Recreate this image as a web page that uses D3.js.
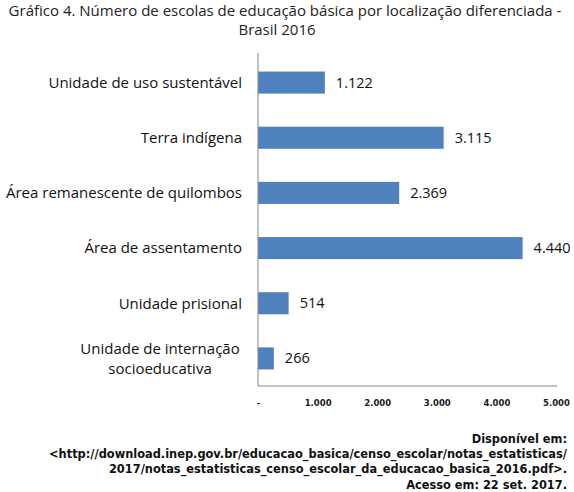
<!DOCTYPE html>
<html>
<head>
<meta charset="utf-8">
<script src="https://cdn.jsdelivr.net/npm/d3@7"></script>
<style>
  body { margin: 0; background: #fff; }
  svg { display: block; }
  .cat { font-family: "Open Sans", sans-serif; font-size: 15px; fill: #111; }
  .val { font-family: "Open Sans", sans-serif; font-size: 14.5px; fill: #111; }
  .tick text { font-family: "DejaVu Sans", sans-serif; font-size: 8.5px; font-weight: bold; fill: #1a1a1a; }
  .title { font-family: "Open Sans", sans-serif; font-size: 15px; fill: #222; }
  .src { font-family: "DejaVu Sans", Verdana, sans-serif; font-size: 11.4px; font-weight: bold; fill: #111; }
</style>
</head>
<body>
<svg id="chart" width="574" height="492"></svg>
<script>
var categories = [
    ["Unidade de uso sustentável"],
    ["Terra indígena"],
    ["Área remanescente de quilombos"],
    ["Área de assentamento"],
    ["Unidade prisional"],
    ["Unidade de internação", "socioeducativa"]
];
var values = [1122, 3115, 2369, 4440, 514, 266];
var ticks = [0, 1000, 2000, 3000, 4000, 5000];
var titleLines = ["Gráfico 4. Número de escolas de educação básica por localização diferenciada -", "Brasil 2016"];
var sourceLines = [
    "Disponível em:",
    "<http://download.inep.gov.br/educacao_basica/censo_escolar/notas_estatisticas/",
    "2017/notas_estatisticas_censo_escolar_da_educacao_basica_2016.pdf>.",
    "Acesso em: 22 set. 2017."
];

var svg = d3.select('#chart');

var x = d3.scaleLinear().domain([0, 5000]).range([258, 556]);
var y = d3.scaleBand().domain(d3.range(values.length)).range([55, 386]).paddingInner(0.6).paddingOuter(0.3);

// pt-BR number format: 1.122
var fmt = function (v) {
    if (v == 0) return '-';
    return d3.format(',')(v).replace(/,/g, '.');
};

// title
svg.selectAll('.title').data(titleLines).enter().append('text')
    .attr('class', 'title')
    .attr('x', function (d, i) { return i == 0 ? 285 : 277; })
    .attr('y', function (d, i) { return 16 + i * 19; })
    .attr('text-anchor', 'middle')
    .text(function (d) { return d; });

// bars
svg.selectAll('.bar').data(values).enter().append('rect')
    .attr('class', 'bar')
    .attr('x', x(0))
    .attr('y', function (d, i) { return y(i); })
    .attr('width', function (d) { return x(d) - x(0); })
    .attr('height', y.bandwidth())
    .attr('fill', '#4f81bd');

// value labels
svg.selectAll('.val').data(values).enter().append('text')
    .attr('class', 'val')
    .attr('x', function (d) { return x(d) + 11; })
    .attr('y', function (d, i) { return y(i) + y.bandwidth() / 2; })
    .attr('dy', '0.35em')
    .text(function (d) { return fmt(d); });

// category labels
var cat = svg.selectAll('.cat').data(categories).enter().append('text')
    .attr('class', 'cat')
    .attr('text-anchor', function (d) { return d.length > 1 ? 'middle' : 'end'; })
    .attr('transform', function (d, i) {
        var cx = d.length > 1 ? 160 : 242;
        return 'translate(' + cx + ',' + (y(i) + y.bandwidth() / 2) + ')';
    });
cat.selectAll('tspan').data(function (d) { return d; }).enter().append('tspan')
    .attr('x', 0)
    .attr('y', function (d, j, nodes) { return (j - (nodes.length - 1) / 2) * 20; })
    .attr('dy', '0.35em')
    .text(function (d) { return d; });

// axes
var xAxis = d3.axisBottom(x).tickValues(ticks).tickSize(0).tickPadding(14).tickFormat(fmt);
var gx = svg.append('g').attr('transform', 'translate(0,386)').call(xAxis);
gx.select('.domain').remove();

svg.append('line')
    .attr('x1', x(0)).attr('x2', x(0))
    .attr('y1', 53).attr('y2', 386)
    .attr('stroke', '#868686').attr('stroke-width', 1);
svg.append('line')
    .attr('x1', x(0)).attr('x2', 557)
    .attr('y1', 386).attr('y2', 386)
    .attr('stroke', '#868686').attr('stroke-width', 1);

// source
svg.selectAll('.src').data(sourceLines).enter().append('text')
    .attr('class', 'src')
    .attr('x', 567)
    .attr('y', function (d, i) { return 443 + i * 15.2; })
    .attr('text-anchor', 'end')
    .text(function (d) { return d; });
</script>
</body>
</html>
